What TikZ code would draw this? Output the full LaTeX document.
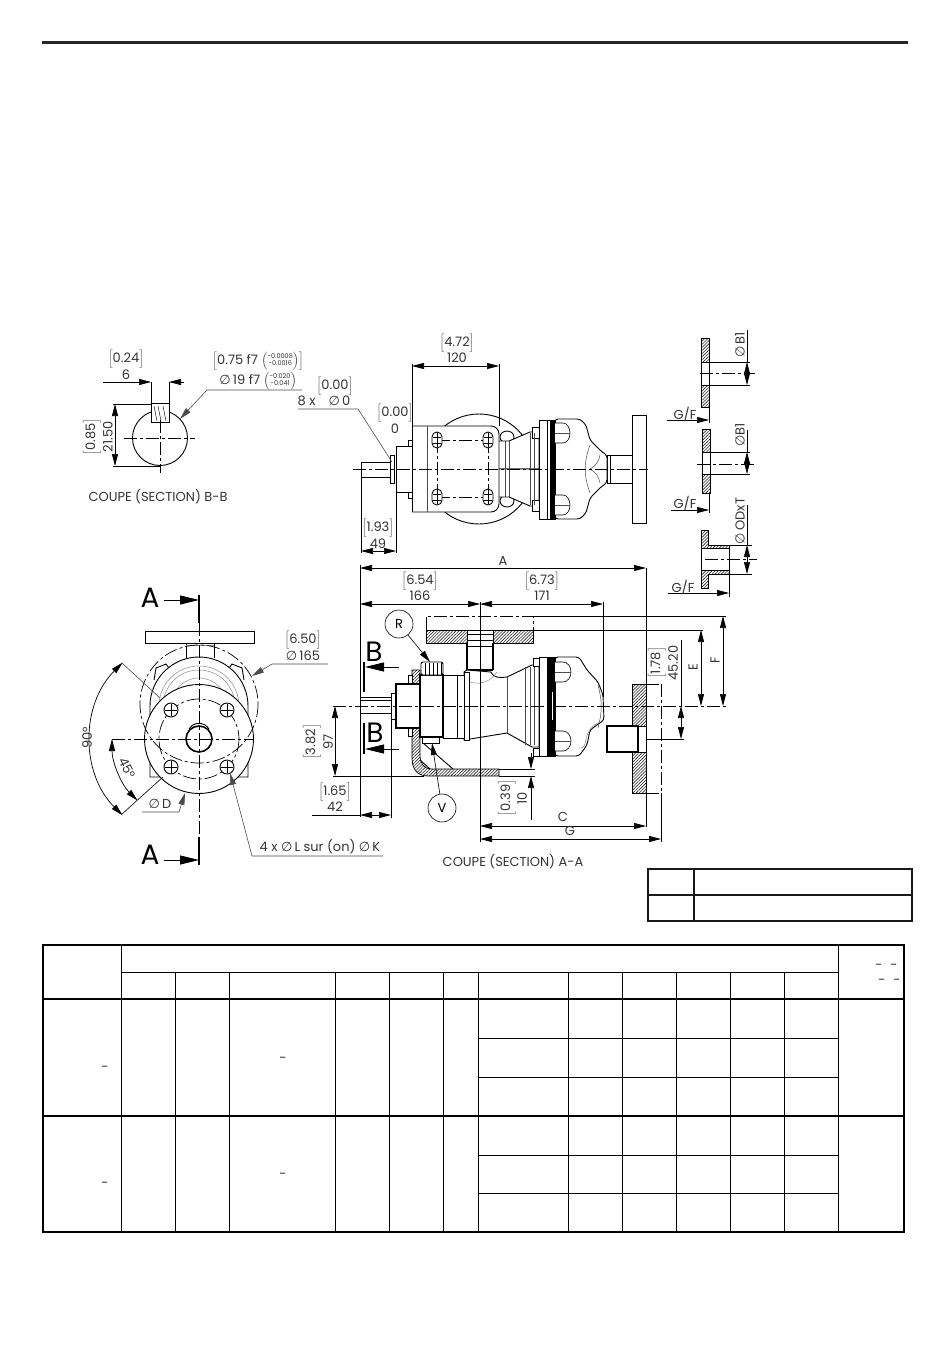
\documentclass[tikz,border=0pt]{standalone}
\usepackage{fontspec}
\setmainfont{Poppins}
\newfontfamily\symfont{DejaVu Sans}
\usetikzlibrary{arrows.meta,patterns.meta}
\newcommand{\dia}{{\symfont ∅}}
\newcommand{\brk}[1]{$\Big[$#1$\Big]$}
\newcommand{\tolstack}[2]{$\left(\vcenter{\hbox{\fontsize{6.5}{7}\selectfont\begin{tabular}{@{}c@{}}#1\\#2\end{tabular}}}\right)$}
\tikzset{
	dimline/.style={line width=.7pt,<->},
	dimarrow/.style={line width=.7pt,->},
	secarrow/.style={line width=.8pt,-{Stealth[length=19pt,width=9pt,inset=0pt]}},
	leadline/.style={line width=.6pt,black!70,->},
	extline/.style={line width=.6pt},
	outline/.style={line width=.9pt},
	heavy/.style={line width=1.6pt},
	axisline/.style={line width=.7pt,dash pattern=on 13pt off 3pt on 3pt off 3pt},
	hatched/.style={draw,line width=.7pt,pattern={Lines[angle=45,distance=2.2pt,line width=.6pt]},pattern color=black!85},
	greyline/.style={line width=.5pt,black!45},
	dimtext/.style={inner sep=0pt,text=black!80,font=\fontsize{13}{14}\selectfont},
	bigtext/.style={inner sep=0pt,font=\fontsize{28}{28}\selectfont},
	balloon/.style={draw,circle,line width=.6pt,minimum size=28pt,inner sep=0pt,font=\fontsize{13}{14}\selectfont},
	rule/.style={line width=2pt,black!90},
	thinrule/.style={line width=1pt}
}
\begin{document}
\begin{tikzpicture}[x=1pt,y=-1pt,>={Stealth[length=12pt,width=6pt,inset=0pt]}]
	\useasboundingbox (0,0) rectangle (950,1370);
	\draw[line width=3pt,black!85] (42,43)--(908,43);
	% section B-B
	\draw[outline] (160,438) circle (27.5);
	\draw[outline,fill=white] (151,403) rectangle (169,422);
	\foreach \x in {154,158,163}\draw[line width=.4pt] (\x,406)--(\x+3,421);
	\draw[axisline] (124,438)--(195,438);
	\draw[axisline] (160,420)--(160,473);
	\draw[extline] (151,382)--(151,403);
	\draw[extline] (169,382)--(169,403);
	\draw[dimarrow] (103,382)--(151,382);
	\draw[dimarrow] (184,382)--(169,382);
	\draw[extline] (113,404)--(151,404);
	\draw[extline] (113,466)--(160,466);
	\draw[dimline] (115,404)--(115,466);
	\draw[leadline] (302,390)--(207,390)--(180,419);
	\node[dimtext] (bwidth) at (126,359) {\brk{0.24}};
	\node[dimtext] (bwidthmm) at (126,375) {6};
	\node[dimtext,rotate=90] (bheight) at (92,437) {\brk{0.85}};
	\node[dimtext,rotate=90] (bheightmm) at (108,437) {21.50};
	\node[dimtext] (fit) at (258,361) {\brk{0.75 f7 \tolstack{-0.0008}{-0.0016}}};
	\node[dimtext] (fitmm) at (258,381) {\dia\,19 f7 \tolstack{-0.020}{-0.041}};
	\node[dimtext] (bbtitle) at (158,497) {COUPE (SECTION) B-B};
	% top view of the pump
	\draw[outline] (479,469) circle (55);
	\draw[outline,fill=white] (507,437) ellipse (7 and 6);
	\draw[outline,fill=white] (507,501) ellipse (7 and 6);
	\foreach \s in {1,-1}{
		\begin{scope}[shift={(0,469)},yscale=\s]
			\draw[outline,fill=white] (499,-28)--(509,-28)--(530,-37)--(539,-37)--(539,0)--(499,0);
			\draw[outline,fill=white] (532,-42) rectangle (539,-31);
			\draw[outline,fill=white] (408,-29) rectangle (412,-17);
		\end{scope}
	}
	\draw[greyline,black!70] (505,441)--(505,497);
	\draw[greyline,black!70] (509,441)--(509,497);
	\draw[greyline,black!70] (530,433)--(530,505);
	\draw[greyline,black!70] (534,433)--(534,505);
	\draw[outline,fill=white,rounded corners=8pt] (412,426) -- (499,426) -- (499,512) -- (412,512);
	\draw[outline] (412,426)--(412,512);
	\draw[greyline,black!70] (427,426)--(427,512);
	\draw[outline,fill=white] (396,446) rectangle (412,492);
	\draw[outline] (361,462)--(390,462);
	\draw[outline] (361,477)--(390,477);
	\draw[outline] (361,462)--(361,477);
	\draw[outline,fill=white] (390,455) rectangle (394,483);
	\draw[axisline] (437,440)--(437,497);
	\draw[axisline] (488,440)--(488,497);
	\draw[axisline] (437,440)--(488,440);
	\draw[axisline] (437,497)--(488,497);
	\foreach \x in {437,488}\foreach \y in {440,497}{
		\draw[outline,fill=white,rounded corners=4.9pt,shift={(\x,\y)}] (-5,-8) rectangle (5,8);
		\draw[line width=.6pt,shift={(\x,\y)}] (-4,-3)--(4,-3);
		\draw[line width=.6pt,shift={(\x,\y)}] (-4,3)--(4,3);
		\draw[line width=.6pt,shift={(\x,\y)}] (0,-7)--(0,7);
	}
	\draw[outline,fill=white] (607,455) rectangle (632,483);
	\draw[outline] (610,455)--(610,483);
	\draw[outline,fill=white,rounded corners=3pt] (555,419)--(580,419)--(586,425)--(590,440)--(602,452)--(607,455)--(607,483)--(602,486)--(590,498)--(586,513)--(580,519)--(555,519)--cycle;
	\draw[outline,fill=white] (539,420) rectangle (547,519);
	\draw[outline,fill=white] (547,420) rectangle (550,519);
	\draw[fill=black] (550,420) rectangle (555,519);
	\foreach \y in {433,505}{
		\draw[line width=.6pt,fill=white] (555,\y-10) -- (563,\y-10) arc (-90:90:7 and 10) -- (555,\y+10);
		\draw[greyline,black!70] (555,\y)--(570,\y);
	}
	\draw[greyline,black!70] (590,445) to[bend right=20] (590,493);
	\draw[greyline,black!70] (600,455) to[bend left=25] (590,469) to[bend left=25] (600,483);
	\draw[outline,fill=white] (632,415) rectangle (646,523);
	\draw[axisline] (353,469)--(648,469);
	\draw[extline] (412,364)--(412,426);
	\draw[extline] (499,364)--(499,426);
	\draw[dimline] (412,366)--(499,366);
	\draw[extline,black!70] (298,409)--(358,409)--(392,462);
	\draw[extline] (361,477)--(361,553);
	\draw[extline] (396,492)--(396,553);
	\draw[dimline] (361,551)--(396,551);
	\node[dimtext] (topwidth) at (457,343) {\brk{4.72}};
	\node[dimtext] (topwidthmm) at (457,358) {120};
	\node[dimtext] (bolt) at (335,386) {\brk{0.00}};
	\node[dimtext] (boltmm) at (324,401) {8 x\quad\dia\,0};
	\node[dimtext] (zero) at (395,413) {\brk{0.00}};
	\node[dimtext] (zeromm) at (395,429) {0};
	\node[dimtext] (shaftlen) at (378,528) {\brk{1.93}};
	\node[dimtext] (shaftlenmm) at (378,544) {49};
	% the three flanges
	\draw[hatched] (701,338) rectangle (709,362);
	\draw[hatched] (701,385) rectangle (709,407);
	\draw[outline] (701,362)--(701,385);
	\draw[outline] (709,362)--(709,385);
	\draw[axisline] (700,373)--(755,373);
	\draw[extline] (709,362)--(750,362);
	\draw[extline] (709,385)--(750,385);
	\draw[extline] (747,330)--(747,362);
	\draw[dimline] (747,362)--(747,385);
	\draw[extline] (709,407)--(709,423);
	\draw[dimarrow] (667,420)--(709,420);
	\node[dimtext,rotate=90] (flangeone) at (740,345) {\dia\,B1};
	\node[dimtext] (gfone) at (685,414) {G/F};
	\draw[hatched] (702,429) rectangle (710,452);
	\draw[hatched] (702,474) rectangle (710,493);
	\draw[outline] (702,452)--(702,474);
	\draw[outline] (710,452)--(710,474);
	\draw[axisline] (697,464)--(755,464);
	\draw[extline] (710,452)--(750,452);
	\draw[extline] (710,474)--(750,474);
	\draw[extline] (747,430)--(747,452);
	\draw[dimline] (747,452)--(747,474);
	\draw[extline] (709,493)--(709,513);
	\draw[dimarrow] (671,510)--(709,510);
	\node[dimtext,rotate=90] (flangetwo) at (740,435) {\dia B1};
	\node[dimtext] (gftwo) at (685,503) {G/F};
	\draw[hatched] (701,530)--(708,530)--(708,545)--(729,545)--(729,548)--(701,548)--cycle;
	\draw[hatched] (701,570)--(729,570)--(729,574)--(708,574)--(708,588)--(701,588)--cycle;
	\draw[outline] (701,548)--(701,570);
	\draw[outline] (729,548)--(729,570);
	\draw[axisline] (705,559)--(757,559);
	\draw[extline] (729,545)--(752,545);
	\draw[extline] (729,574)--(752,574);
	\draw[extline] (747,505)--(747,545);
	\draw[dimline] (747,545)--(747,574);
	\draw[extline] (729,574)--(729,597);
	\draw[dimarrow] (668,593)--(729,593);
	\node[dimtext,rotate=90] (flangethree) at (740,521) {\dia\,ODxT};
	\node[dimtext] (gfthree) at (683,587) {G/F};
	% front view
	\draw[outline] (145,631) rectangle (254,643);
	\draw[outline] (186,643)--(186,658);
	\draw[outline] (214,643)--(214,658);
	\draw[greyline] (186,645)--(214,645);
	\draw[outline,fill=white] (154,680)--(156,668)--(166,664)--(172,672);
	\draw[outline,fill=white] (244,680)--(242,668)--(232,664)--(226,672);
	\draw[outline,fill=white] (150,777)--(150,706) arc (180:360:49)--(248,777)--cycle;
	\foreach \r in {40,36,28}\draw[greyline] (199,706) circle (\r);
	\draw[outline,fill=white] (199,739) circle (54.5);
	\draw[axisline] (199,704) circle (59);
	\draw[axisline] (199,739) circle (40);
	\foreach \x in {171,227}\foreach \y in {710,767}{
		\draw[outline,fill=white] (\x,\y) circle (7);
		\draw[line width=.5pt] (\x-6,\y)--(\x+6,\y);
		\draw[line width=.5pt] (\x,\y-6)--(\x,\y+6);
	}
	\draw[heavy,fill=white] (199,739) circle (13);
	\draw[outline] (189,729) arc (210:330:11.5);
	\draw[axisline] (112,739)--(253,739);
	\draw[axisline] (199,623)--(199,837);
	\draw[heavy] (199,595)--(199,623);
	\draw[heavy] (199,837)--(199,865);
	\draw[secarrow] (164,600)--(199,600);
	\draw[secarrow] (164,860)--(199,860);
	\node[bigtext] (cuta) at (150,598) {A};
	\node[bigtext] (cutb) at (150,855) {A};
	\draw[extline,black!70] (122,663)--(160,698);
	\draw[extline] (122,814)--(163,777);
	\draw[dimline] (122.6,662.6) arc (225:135:108);
	\draw[dimline] (112,739) arc (180:135:87);
	\node[dimtext,rotate=90] (ninety) at (87,738) {90°};
	\node[dimtext,rotate=-65] (fortyfive) at (127,768) {45°};
	\draw[leadline] (142,812)--(179,812)--(185,793);
	\node[dimtext] (diad) at (160,804) {\dia\,D};
	\draw[leadline] (328,664)--(272,664)--(252,676);
	\node[dimtext] (diaflange) at (303,640) {\brk{6.50}};
	\node[dimtext] (diaflangemm) at (303,656) {\dia\,165};
	\draw[leadline] (383,856)--(252,856)--(230,773);
	\node[dimtext] (holes) at (320,847) {4 x\ \dia\,L sur (on)\ \dia\,K};
	% section A-A
	\draw[hatched] (412,670)--(420,670)--(420,755) .. controls (420,764) and (425,769) .. (431,769)--(499,769)--(499,776)--(428,776) .. controls (418,776) and (412,770) .. (412,758)--cycle;
	\draw[outline] (423,743)--(453,769);
	\draw[outline] (420,760)--(430,769);
	\draw[hatched] (426,630) rectangle (467,643);
	\draw[hatched] (493,630) rectangle (533,643);
	\draw[axisline] (426,630)--(426,616)--(533,616)--(533,630);
	\draw[outline] (467,630)--(493,630);
	\draw[heavy] (467,643)--(467,670);
	\draw[heavy] (493,643)--(493,670);
	\draw[heavy] (467,670)--(493,670);
	\foreach \y in {634,640,646}\draw[line width=.4pt] (467,\y)--(493,\y);
	\draw[outline,fill=white] (464,672)--(467,670)--(491,672) .. controls (493,678) and (500,678) .. (507,677)--(532,665)--(539,665)--(539,747)--(532,747)--(507,733)--(464,740)--cycle;
	\draw[greyline] (467,681) .. controls (480,686) and (490,682) .. (497,672);
	\draw[greyline,black!70] (507,677)--(507,733);
	\foreach \x in {525,530,534}\draw[greyline,black!70] (\x,667)--(\x,745);
	\foreach \y in {662,752}\draw[outline,fill=white] (533,\y-4) rectangle (539,\y+4);
	\draw[outline,fill=white] (457,675) rectangle (464,738);
	\draw[outline,fill=white] (464,672) rectangle (469,740);
	\draw[outline] (443,675)--(457,675);
	\draw[outline] (443,738)--(457,738);
	\draw[heavy,fill=white] (420,675) rectangle (443,737);
	\draw[outline,fill=white,rounded corners=2pt] (421,662) rectangle (443,675);
	\foreach \x in {425,429,433,437,441}\draw[line width=.5pt] (\x,663)--(\x,675);
	\draw[outline,fill=white] (422,737) rectangle (439,743);
	\foreach \y in {679,732}\draw[outline,fill=white] (408,\y-4) rectangle (412,\y+4);
	\draw[heavy,fill=white] (396,684) rectangle (420,728);
	\draw[outline,fill=white] (360,697) rectangle (391,713);
	\draw[outline] (360,700)--(391,700);
	\draw[outline,fill=white] (391,693) rectangle (395,719);
	\draw[outline,fill=white,rounded corners=3pt] (555,657)--(579,657)--(587,670)--(598,682)--(603,695)--(604,720)--(590,730)--(587,745)--(579,756)--(555,756)--cycle;
	\draw[outline,fill=white] (539,657) rectangle (547,756);
	\draw[fill=black] (548,657) rectangle (555,756);
	\draw[white,line width=.8pt] (552,692)--(552,720);
	\foreach \y in {672,741}{
		\draw[line width=.6pt,fill=white] (555,\y-10)--(563,\y-10) arc (-90:90:8 and 10)--(555,\y+10);
		\draw[greyline,black!70] (555,\y)--(571,\y);
	}
	\draw[greyline,black!70] (598,685) to[bend left=15] (598,728);
	\draw[greyline] (579,748) .. controls (590,750) and (580,730) .. (600,722);
	\draw[heavy,fill=white] (607,726) rectangle (638,752);
	\draw[outline] (638,726)--(646,726);
	\draw[outline] (638,752)--(646,752);
	\draw[outline] (646,726)--(646,752);
	\draw[hatched] (632,684) rectangle (646,726);
	\draw[hatched] (632,752) rectangle (646,793);
	\draw[axisline] (646,684)--(661,684);
	\draw[axisline] (646,793)--(661,793);
	\draw[axisline] (661,684)--(661,793);
	\draw[axisline] (333,706)--(726,706);
	% dimensions of section A-A
	\draw[extline] (360,565)--(360,697);
	\draw[extline] (360,713)--(360,817);
	\draw[extline] (646,568)--(646,684);
	\draw[extline] (646,793)--(646,827);
	\draw[dimline] (360,568)--(646,568);
	\draw[dimline] (360,604)--(480,604);
	\draw[dimline] (480,604)--(603,604);
	\draw[extline] (480,602)--(480,842);
	\draw[extline] (603,602)--(603,697);
	\draw[dimline] (480,826)--(646,826);
	\draw[dimline] (480,839)--(661,839);
	\draw[extline] (661,793)--(661,842);
	\draw[extline] (533,616)--(726,616);
	\draw[extline] (533,630)--(703,630);
	\draw[extline] (646,739)--(684,739);
	\draw[extline] (681,640)--(681,706);
	\draw[dimline] (681,706)--(681,739);
	\draw[dimline] (701,630)--(701,706);
	\draw[dimline] (723,616)--(723,706);
	\draw[extline] (499,769)--(535,769);
	\draw[extline] (499,776)--(535,776);
	\draw[dimarrow] (531,753)--(531,769);
	\draw[dimarrow] (531,820)--(531,776);
	\draw[extline] (333,776)--(424,776);
	\draw[dimline] (335,706)--(335,776);
	\draw[extline] (391,713)--(391,818);
	\draw[extline] (312,815)--(360,815);
	\draw[dimline] (360,815)--(391,815);
	\draw[heavy] (364,662)--(364,692);
	\draw[heavy] (364,723)--(364,754);
	\draw[secarrow] (399,667)--(365,667);
	\draw[secarrow] (399,749)--(365,749);
	\node[balloon] (rplug) at (399,624) {R};
	\node[balloon] (vplug) at (442,808) {V};
	\draw[leadline,black] (rplug)--(430,662);
	\draw[leadline,black] (vplug)--(432,743);
	\node[bigtext] (cutbtop) at (374,652) {B};
	\node[bigtext] (cutbbot) at (375,733) {B};
	\node[dimtext] (lena) at (503,561) {A};
	\node[dimtext] (lenleft) at (420,581) {\brk{6.54}};
	\node[dimtext] (lenleftmm) at (420,596) {166};
	\node[dimtext] (lenright) at (542,581) {\brk{6.73}};
	\node[dimtext] (lenrightmm) at (542,596) {171};
	\node[dimtext] (lenc) at (563,817) {C};
	\node[dimtext] (leng) at (570,831) {G};
	\node[dimtext,rotate=90] (height) at (312,742) {\brk{3.82}};
	\node[dimtext,rotate=90] (heightmm) at (328,742) {97};
	\node[dimtext] (shaft) at (335,792) {\brk{1.65}};
	\node[dimtext] (shaftmm) at (335,807) {42};
	\node[dimtext,rotate=90] (foot) at (507,798) {\brk{0.39}};
	\node[dimtext,rotate=90] (footmm) at (522,798) {10};
	\node[dimtext,rotate=90] (offset) at (657,663) {\brk{1.78}};
	\node[dimtext,rotate=90] (offsetmm) at (673,663) {45.20};
	\node[dimtext,rotate=90] (lene) at (693,667) {E};
	\node[dimtext,rotate=90] (lenf) at (715,660) {F};
	\node[dimtext] (aatitle) at (513,862) {COUPE (SECTION) A-A};
	% small table
	\draw[rule] (648,869) rectangle (912,921);
	\draw[rule] (648,895)--(912,895);
	\draw[rule] (694,869)--(694,921);
	% large table
	\draw[line width=2.5pt] (43,945) rectangle (904,1232);
	\draw[line width=2.5pt] (43,999)--(904,999);
	\draw[line width=2.5pt] (43,1116)--(904,1116);
	\draw[thinrule] (121,972)--(838,972);
	\foreach \y in {1038,1077,1155,1193}\draw[thinrule] (478,\y)--(838,\y);
	\foreach \x in {121,838}\draw[thinrule] (\x,945)--(\x,1232);
	\foreach \x in {175,229,335,389,443,478,568,622,676,730,784}\draw[thinrule] (\x,972)--(\x,1232);
	\foreach \n/\x/\y in {dasha/105/1069,dashb/283/1060,dashc/105/1185,dashd/283/1176,dashe/879/967,dashf/894/967,dashg/882/982,dashh/897/982}
		\node[dimtext] (\n) at (\x,\y) {-};
\end{tikzpicture}
\end{document}
